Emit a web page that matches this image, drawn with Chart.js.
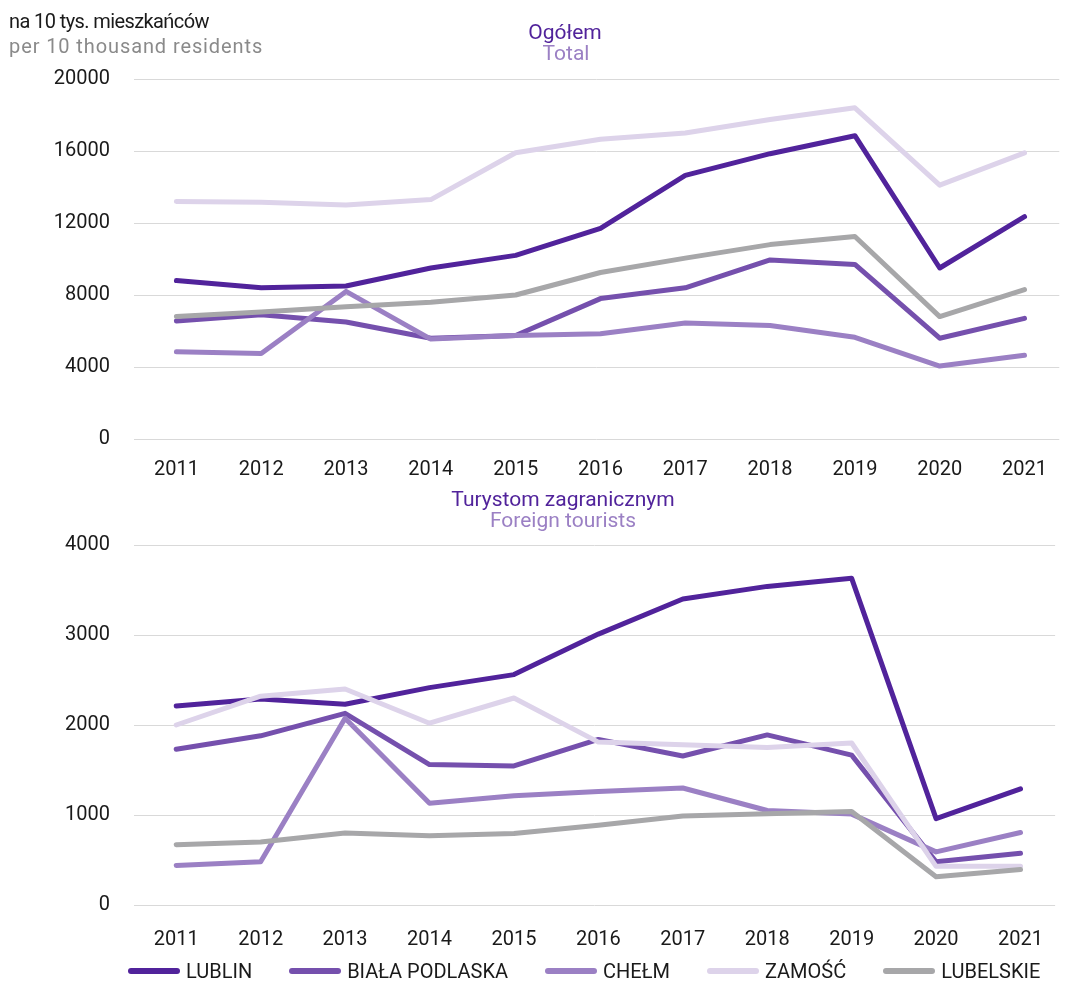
<!DOCTYPE html>
<html><head><meta charset="utf-8">
<script src="https://cdn.jsdelivr.net/npm/chart.js@4.4.0/dist/chart.umd.min.js"></script>
<style>
html,body{margin:0;padding:0;background:#fff;}
#wrap{position:relative;width:1066px;height:984px;overflow:hidden;font-family:Roboto,"Noto Sans",sans-serif;}
.txt{position:absolute;white-space:nowrap;font-size:20px;line-height:24px;}
.ttl{font-size:21px;}
.ctr{transform:translateX(-50%);}
canvas{position:absolute;left:0;}
#legend{position:absolute;left:128px;top:959px;display:flex;gap:37px;align-items:center;}
.li{display:flex;align-items:center;gap:6px;font-size:20px;line-height:24px;color:#1a1a1a;}
.sw{width:52px;height:6px;border-radius:3px;}
</style></head><body>
<div id="wrap">
  <canvas id="c1" width="1066" height="485" style="top:0;width:1066px;height:485px;"></canvas>
  <canvas id="c2" width="1066" height="504" style="top:480px;width:1066px;height:504px;"></canvas>
  <div class="txt" style="left:9px;top:9px;color:#1a1a1a;letter-spacing:-0.6px;">na 10 tys. mieszkańców</div>
  <div class="txt" style="left:9px;top:34px;color:#8a8a8a;letter-spacing:0.9px;">per 10 thousand residents</div>
  <div class="txt ttl ctr" style="left:565px;top:20px;color:#51239b;">Ogółem</div>
  <div class="txt ttl ctr" style="left:566px;top:41px;color:#9b80c4;">Total</div>
  <div class="txt ttl ctr" style="left:563px;top:487px;color:#51239b;">Turystom zagranicznym</div>
  <div class="txt ttl ctr" style="left:563px;top:508px;color:#9b80c4;">Foreign tourists</div>
  <div id="legend"></div>
</div>
<script>
const years = [2011, 2012, 2013, 2014, 2015, 2016, 2017, 2018, 2019, 2020, 2021];
const seriesNames = ['LUBLIN', 'BIAŁA PODLASKA', 'CHEŁM', 'ZAMOŚĆ', 'LUBELSKIE'];
const seriesColors = ['#51239b', '#7550ad', '#9b80c4', '#ddd3ea', '#a7a7a9'];

// Ogółem / Total (per 10 thousand residents)
const totalLublin    = [8800, 8400, 8500, 9500, 10200, 11700, 14650, 15850, 16850, 9500, 12350];
const totalBiala     = [6550, 6900, 6500, 5600, 5750, 7800, 8400, 9950, 9700, 5600, 6700];
const totalChelm     = [4850, 4750, 8200, 5550, 5750, 5850, 6450, 6300, 5650, 4050, 4650];
const totalZamosc    = [13200, 13150, 13000, 13300, 15900, 16650, 17000, 17750, 18400, 14100, 15900];
const totalLubelskie = [6800, 7050, 7350, 7600, 8000, 9250, 10050, 10800, 11250, 6800, 8300];
const totalTicks = [0, 4000, 8000, 12000, 16000, 20000];

// Turystom zagranicznym / Foreign tourists
const foreignLublin    = [2210, 2290, 2230, 2415, 2560, 3010, 3400, 3540, 3630, 960, 1290];
const foreignBiala     = [1730, 1880, 2130, 1560, 1545, 1840, 1655, 1890, 1665, 480, 575];
const foreignChelm     = [440, 480, 2075, 1130, 1215, 1260, 1300, 1050, 1010, 590, 805];
const foreignZamosc    = [2000, 2320, 2400, 2020, 2300, 1810, 1780, 1750, 1800, 430, 430];
const foreignLubelskie = [670, 700, 800, 770, 795, 885, 990, 1015, 1040, 315, 395];
const foreignTicks = [0, 1000, 2000, 3000, 4000];

const FONT = 'Roboto, "Noto Sans", sans-serif';

function makeDatasets(arrs) {
  return arrs.map((vals, i) => ({
    label: seriesNames[i],
    data: vals.map((v, k) => ({ x: years[k], y: v })),
    borderColor: seriesColors[i],
    backgroundColor: seriesColors[i],
    borderWidth: 5,
    pointRadius: 0,
    pointHoverRadius: 0,
    tension: 0,
    borderCapStyle: 'round',
    borderJoinStyle: 'round',
    fill: false,
    order: arrs.length - 1 - i
  }));
}

function makeChart(id, arrs, ticks, topPad, xAxisH, labelPad) {
  const maxV = ticks[ticks.length - 1];
  const step = ticks[1] - ticks[0];
  return new Chart(document.getElementById(id), {
    type: 'line',
    data: { datasets: makeDatasets(arrs) },
    options: {
      responsive: false,
      animation: false,
      events: [],
      layout: { padding: { top: topPad, right: 0, bottom: 0, left: 0 } },
      plugins: { legend: { display: false }, tooltip: { enabled: false }, title: { display: false } },
      scales: {
        x: {
          type: 'linear',
          min: 2010.5,
          max: 2021.41,
          afterFit: s => { s.height = xAxisH; },
          afterBuildTicks: s => { s.ticks = years.map(v => ({ value: v })); },
          grid: { display: false, drawTicks: false },
          border: { display: false },
          ticks: {
            padding: labelPad,
            color: '#1a1a1a',
            font: { family: FONT, size: 20 },
            maxRotation: 0,
            autoSkip: false,
            callback: v => String(v)
          }
        },
        y: {
          min: 0,
          max: maxV,
          afterFit: s => { s.width = 134; },
          afterBuildTicks: s => { s.ticks = ticks.map(v => ({ value: v })); },
          grid: { color: '#d9d9d9', lineWidth: 1, drawTicks: false },
          border: { display: false },
          ticks: {
            stepSize: step,
            padding: 24,
            color: '#1a1a1a',
            font: { family: FONT, size: 20 },
            callback: v => String(v)
          }
        }
      }
    }
  });
}

makeChart('c1', [totalLublin, totalBiala, totalChelm, totalZamosc, totalLubelskie], totalTicks, 79, 46, 19);
makeChart('c2', [foreignLublin, foreignBiala, foreignChelm, foreignZamosc, foreignLubelskie], foreignTicks, 65, 79, 23);

const leg = document.getElementById('legend');
seriesNames.forEach((n, i) => {
  const it = document.createElement('div');
  it.className = 'li';
  const sw = document.createElement('span');
  sw.className = 'sw';
  sw.style.background = seriesColors[i];
  const t = document.createElement('span');
  t.textContent = n;
  it.appendChild(sw); it.appendChild(t);
  leg.appendChild(it);
});
</script>
</body></html>
